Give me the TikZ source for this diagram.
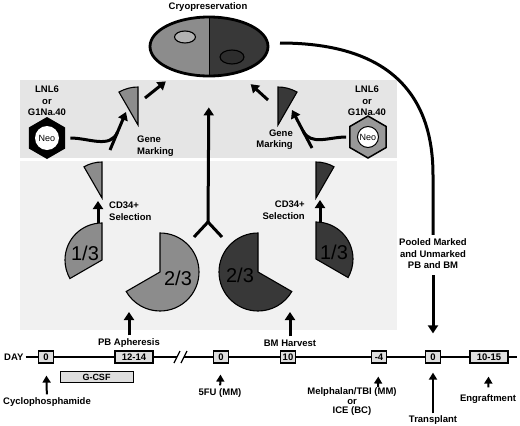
\documentclass[tikz,border=0pt]{standalone}
\usepackage{fontspec}
\setmainfont{Liberation Sans}
\usetikzlibrary{arrows.meta,shapes.geometric}
\definecolor{bandtop}{gray}{0.9}
\definecolor{bandlow}{gray}{0.945}
\definecolor{cellpb}{gray}{0.55}
\definecolor{cellbm}{gray}{0.22}
\definecolor{boxgray}{gray}{0.87}
\definecolor{hexgray}{gray}{0.6}

\begin{document}
\begin{tikzpicture}[x=1pt,y=1pt,
	lbl/.style={font=\bfseries\fontsize{9.5}{11.5}\selectfont, align=center, inner sep=0pt},
	frac/.style={font=\fontsize{20}{20}\selectfont, inner sep=0pt},
	arr/.style={line width=3pt, -{Triangle[length=8pt,width=10pt]}},
	tick/.style={line width=2pt, -{Triangle[length=7pt,width=8pt]}},
	daybox/.style={draw, line width=1.2pt, fill=boxgray, font=\bfseries\fontsize{9.5}{11}\selectfont, minimum height=12pt, minimum width=15pt, inner sep=1.5pt},
	piece/.style={draw, line width=1.1pt},
	hexa/.style={regular polygon, regular polygon sides=6, shape border rotate=30, minimum size=42pt, inner sep=0pt},
	neo/.style={circle, minimum size=24pt, inner sep=0pt, font=\fontsize{9}{10}\selectfont}]
	\useasboundingbox (0,0) rectangle (520,-426);
	\fill[bandtop] (20,-80) rectangle (397,-158);
	\fill[bandlow] (20,-161) rectangle (397,-330);

	\node[lbl] (cryo) at (208,-7) {Cryopreservation};
	\node[ellipse, draw, line width=2.8pt, minimum width=118pt, minimum height=59pt, inner sep=0pt,
		path picture={\fill[cellpb] (path picture bounding box.north west) rectangle (path picture bounding box.south);
			\fill[cellbm] (path picture bounding box.north) rectangle (path picture bounding box.south east);
			\draw[line width=0.8pt] (path picture bounding box.north) -- (path picture bounding box.south);}] (store) at (209,-46.5) {};
	\node[ellipse, piece, fill=gray!60, minimum width=21pt, minimum height=12pt] (vialpb) at (185,-37) {};
	\node[ellipse, piece, fill=cellbm!80!black, minimum width=24pt, minimum height=14pt] (vialbm) at (232,-57) {};

	\node[hexa, fill=black] (hexL) at (47,-138) {};
	\node[neo, fill=white] (neoL) at (hexL) {Neo};
	\node[hexa, draw, line width=1.5pt, fill=hexgray] (hexR) at (368,-137) {};
	\node[neo, draw, line width=1pt, fill=white, minimum size=21pt] (neoR) at (hexR) {Neo};
	\node[lbl] (vecL) at (47,-101) {LNL6\\or\\G1Na.40};
	\node[lbl] (vecR) at (367,-101) {LNL6\\or\\G1Na.40};
	\node[lbl, align=left, anchor=west] (gmL) at (137,-146) {Gene\\Marking};
	\node[lbl, align=right, anchor=east] (gmR) at (293,-139.5) {Gene\\Marking};

	\filldraw[piece, fill=cellpb] (138,-125) -- ++(90:38) arc[start angle=90, end angle=120, radius=38] -- cycle;
	\filldraw[piece, fill=cellbm] (278,-125) -- ++(90:38) arc[start angle=90, end angle=60, radius=38] -- cycle;
	\coordinate (inL) at (110,-150);
	\coordinate (tipL) at (126,-112);
	\coordinate (inR) at (312,-148);
	\coordinate (tipR) at (292,-110);
	\draw[arr] (inL) -- (tipL);
	\draw[line width=3pt] ([xshift=5pt]hexL.east) to[out=0, in=-113] (117.5,-132);
	\draw[arr] (inR) -- (tipR);
	\draw[line width=3pt] ([xshift=-3pt]hexR.west) to[out=180, in=-62] (303,-131);
	\coordinate (outL) at (145,-98);
	\coordinate (outR) at (268,-100);
	\draw[arr, shorten >=14pt] (outL) -- (store.219);
	\draw[arr, shorten >=16pt] (outR) -- (store.318);

	\filldraw[piece, fill=cellpb] (102,-198) -- ++(90:36) arc[start angle=90, end angle=120, radius=36] -- cycle;
	\filldraw[piece, fill=cellbm] (316,-198) -- ++(90:36) arc[start angle=90, end angle=60, radius=36] -- cycle;
	\filldraw[piece, fill=cellpb] (102,-260) -- ++(90:37) arc[start angle=90, end angle=210, radius=37] -- cycle;
	\filldraw[piece, fill=cellpb] (160,-272) -- ++(90:39) arc[start angle=90, end angle=-150, radius=39] -- cycle;
	\filldraw[piece, fill=cellbm] (258,-272) -- ++(90:39) arc[start angle=90, end angle=330, radius=39] -- cycle;
	\filldraw[piece, fill=cellbm] (316,-259) -- ++(90:37) arc[start angle=90, end angle=-30, radius=37] -- cycle;
	\node[frac] (pbsmall) at (85,-253) {1/3};
	\node[frac] (pblarge) at (178,-278) {2/3};
	\node[frac] (bmlarge) at (240,-275) {2/3};
	\node[frac] (bmsmall) at (334,-252) {1/3};
	\node[lbl, align=left, anchor=west] (selL) at (109,-211) {CD34+\\Selection};
	\node[lbl, align=right, anchor=east] (selR) at (305,-210) {CD34+\\Selection};
	\draw[arr] (98,-223) -- (98,-201);
	\draw[arr] (320,-223) -- (320,-200);

	\coordinate (fork) at (208,-222);
	\draw[arr, shorten >=30pt] (fork) -- (store.south);
	\draw[line width=3pt] (194,-237) -- (fork) -- (222,-237);

	\node[lbl] (pba) at (129,-343) {PB Apheresis};
	\node[lbl] (bmh) at (290,-343) {BM Harvest};
	\coordinate (pbin) at (129,-312);
	\coordinate (bmin) at (290,-312);
	\draw[arr, shorten <=3pt] (pba) -- (pbin);
	\draw[arr, shorten <=3pt] (bmh) -- (bmin);

	\node[lbl, inner sep=2pt, anchor=west] (day) at (2,-357) {DAY};
	\node[daybox] (t1) at (46,-357) {0};
	\node[daybox, minimum width=38pt] (t2) at (134,-357) {12-14};
	\node[daybox] (t3) at (221,-357) {0};
	\node[daybox] (t4) at (288,-357) {10};
	\node[daybox] (t5) at (379,-357) {-4};
	\node[daybox] (t6) at (433,-357) {0};
	\node[daybox, minimum width=38pt] (t7) at (489,-357) {10-15};
	\coordinate (brkA) at (177,-357);
	\coordinate (brkB) at (184,-357);
	\coordinate (tend) at (517,-357);
	\draw[line width=1.2pt] (day) -- (t1) -- (t2) -- (brkA) (brkB) -- (t3) -- (t4) -- (t5) -- (t6) -- (t7) -- (tend);
	\draw[line width=1.2pt] (174,-363) -- (180,-351) (181,-363) -- (187,-351);
	\node[daybox, line width=1pt, minimum width=73pt, minimum height=11pt, font=\bfseries\fontsize{9}{10}\selectfont] (gcsf) at (96.5,-377) {G-CSF};

	\node[lbl] (cyclo) at (47,-402) {Cyclophosphamide};
	\node[lbl] (fu) at (220,-393) {5FU (MM)};
	\node[lbl, font=\bfseries\fontsize{9.5}{9.5}\selectfont] (melph) at (352,-402) {Melphalan/TBI (MM)\\or\\ICE (BC)};
	\node[lbl] (transp) at (433,-420) {Transplant};
	\node[lbl] (engr) at (488,-399) {Engraftment};
	\coordinate (melin) at (378,-387);
	\draw[tick, shorten <=3pt, shorten >=12pt] (cyclo) -- (t1);
	\draw[tick, shorten <=3pt, shorten >=11pt] (fu) -- (t3);
	\draw[tick, shorten >=13pt] (melin) -- (t5);
	\draw[tick, shorten <=2pt, shorten >=9pt] (transp) -- (t6);
	\draw[tick, shorten <=7pt, shorten >=13pt] (engr) -- (t7);

	\node[lbl] (pooled) at (433,-254) {Pooled Marked\\and Unmarked\\PB and BM};
	\coordinate (poolstart) at (280,-43);
	\draw[line width=3pt, shorten >=4pt] (poolstart) .. controls (395,-43) and (433,-100) .. (433,-175) -- (pooled.north);
	\draw[arr, shorten <=6pt, shorten >=17pt] (pooled.south) -- (t6.north);
\end{tikzpicture}
\end{document}
